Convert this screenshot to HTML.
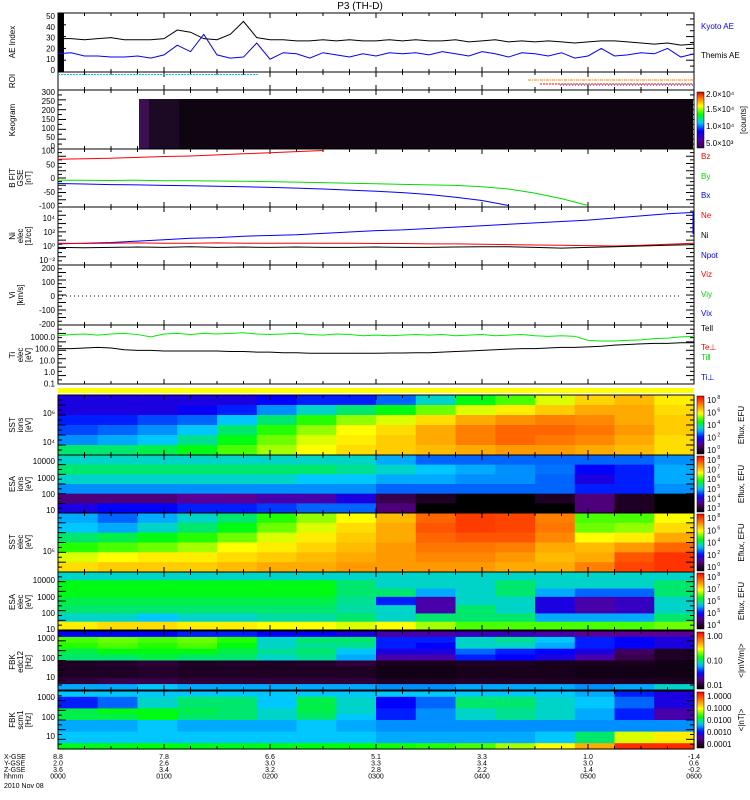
<!DOCTYPE html>
<html><head><meta charset="utf-8">
<style>
html,body{margin:0;padding:0;background:#fff;}
svg{display:block;font-family:"Liberation Sans",sans-serif;}
text{font-size:8px;}
</style></head>
<body>
<svg id="chart" width="750" height="800" viewBox="0 0 750 800" xmlns="http://www.w3.org/2000/svg">
<rect x="0" y="0" width="750" height="800" fill="#fff"/>
<text x="360" y="9" text-anchor="middle" style="font-size:10px">P3 (TH-D)</text>
</svg>
<script>
// ---------- DATA ----------
const aeKyoto = [29,29,28,29,30,28,28,28,29,37,35,29,28,33,45,30,28,28,27,27,28,27,28,27,27,28,27,28,27,27,28,26,27,28,26,27,26,27,26,25,26,27,27,26,25,24,25,23,24];
const aeThemis = [15,16,13,13,12,12,13,11,14,23,17,33,14,11,12,25,10,16,15,11,16,14,12,15,13,16,15,16,14,17,15,13,17,15,12,16,15,13,16,11,13,20,13,14,16,15,20,12,15];
const bz = [68,70,72,75,78,80,84,88,92,96,100];
const by = [-8,-8,-9,-8,-10,-10,-11,-12,-13,-15,-17,-19,-21,-23,-25,-27,-32,-40,-55,-75,-100];
const bx = [-20,-22,-24,-25,-27,-28,-30,-32,-34,-37,-40,-44,-48,-53,-60,-70,-82,-100];
const logNpot = [0.3,0.4,0.5,0.7,0.9,1.1,1.2,1.4,1.5,1.6,1.8,2.0,2.2,2.3,2.5,2.7,2.9,3.1,3.3,3.5,3.7,4.0,4.3,4.6,4.8];
const logNe = [0.4,0.35,0.4,0.45,0.4,0.4,0.45,0.4,0.4,0.4,0.4,0.4,0.35,0.35,0.3,0.3,0.25,0.2,0.15,0.1,0.05,0.0,0.1,0.25,0.4];
const logNi = [-0.2,-0.25,-0.2,-0.15,-0.2,-0.1,-0.2,-0.15,-0.2,-0.15,-0.2,-0.2,-0.15,-0.2,-0.2,-0.15,-0.1,-0.1,-0.2,-0.3,-0.2,-0.1,0.0,0.1,0.2];
const logTi = [3.1,3.2,3.25,3.15,3.25,3.3,3.2,3.0,3.25,3.3,3.2,3.3,3.25,3.3,3.35,3.25,3.2,3.25,3.3,3.2,3.15,3.25,3.2,3.1,3.15,3.1,3.15,3.2,3.15,3.2,3.1,3.15,3.2,3.1,3.15,3.2,3.1,3.05,3.1,3.05,2.7,2.65,2.65,2.7,2.75,2.85,2.9,3.0,3.05];
const logTe = [2.0,2.0,2.05,2.1,2.05,1.9,1.85,1.85,1.8,1.8,1.8,1.8,1.8,1.75,1.75,1.7,1.7,1.65,1.65,1.6,1.6,1.6,1.6,1.6,1.6,1.62,1.62,1.65,1.65,1.7,1.75,1.8,1.85,1.9,1.95,2.0,2.0,2.05,2.1,2.1,2.15,2.2,2.3,2.35,2.4,2.45,2.45,2.5,2.5];
// spectrogram grids: each inner array is one time column, values top->bottom (0..1 normalised log flux)
const sstIon = [[.25,.25,.3,.33,.38,.5],[.25,.25,.3,.35,.4,.5],[.25,.25,.33,.38,.42,.52],[.25,.27,.35,.42,.48,.55],[.25,.3,.42,.5,.55,.6],[.28,.38,.5,.58,.62,.65],[.3,.45,.58,.64,.68,.7],[.3,.5,.64,.7,.72,.74],[.35,.55,.68,.74,.76,.76],[.45,.62,.74,.8,.8,.78],[.55,.68,.8,.85,.85,.8],[.6,.72,.83,.88,.88,.82],[.68,.76,.85,.88,.86,.82],[.75,.8,.84,.86,.84,.8],[.78,.8,.8,.82,.8,.78],[.72,.74,.76,.76,.74,.74]];
const esaIon = [[.45,.5,.45,.38,.15,.25],[.45,.5,.45,.38,.15,.28],[.45,.5,.45,.38,.15,.28],[.45,.5,.45,.38,.18,.3],[.45,.5,.45,.38,.18,.3],[.45,.5,.45,.38,.2,.32],[.45,.5,.42,.38,.2,.35],[.45,.48,.42,.38,.25,.35],[.4,.45,.4,.35,.1,.15],[.35,.42,.4,.35,.05,.0],[.35,.4,.38,.35,.0,.0],[.35,.38,.38,.35,.0,.0],[.35,.36,.35,.35,.05,.0],[.35,.28,.25,.3,.15,.15],[.35,.3,.3,.3,.05,.05],[.38,.4,.4,.38,.0,.0]];
const sstEl = [[.4,.42,.5,.58,.68,.74],[.35,.4,.52,.6,.7,.76],[.4,.45,.55,.62,.72,.76],[.45,.5,.58,.65,.72,.76],[.5,.55,.62,.7,.74,.78],[.58,.62,.68,.72,.76,.8],[.64,.68,.72,.75,.78,.8],[.7,.74,.76,.78,.8,.82],[.78,.8,.8,.82,.82,.82],[.88,.9,.88,.86,.84,.82],[.93,.93,.9,.86,.84,.82],[.92,.92,.9,.85,.82,.8],[.85,.86,.84,.8,.78,.8],[.6,.62,.7,.78,.8,.85],[.6,.64,.72,.82,.9,.92],[.7,.74,.8,.88,.94,.94]];
const esaEl = [[.45,.55,.55,.52,.5,.45,.72],[.45,.55,.55,.52,.5,.45,.74],[.45,.55,.55,.52,.5,.42,.74],[.45,.55,.55,.52,.5,.45,.72],[.45,.55,.55,.52,.5,.45,.72],[.45,.55,.55,.52,.5,.47,.7],[.45,.55,.55,.52,.5,.47,.7],[.45,.5,.5,.48,.47,.5,.68],[.45,.45,.5,.3,.45,.45,.7],[.45,.45,.4,.2,.2,.5,.65],[.45,.45,.45,.45,.5,.5,.6],[.45,.5,.5,.45,.45,.5,.6],[.45,.45,.4,.25,.25,.4,.6],[.45,.45,.35,.2,.2,.4,.6],[.45,.45,.35,.22,.22,.4,.6],[.45,.5,.5,.45,.45,.5,.62]];
const fbkEdc = [[.28,.6,.58,.52,.5,.05,.05,.05,.08,.4],[.28,.62,.6,.55,.5,.06,.05,.05,.1,.4],[.28,.6,.58,.55,.52,.08,.06,.06,.1,.42],[.3,.62,.6,.55,.5,.05,.05,.05,.08,.4],[.3,.58,.55,.52,.5,.06,.05,.05,.08,.4],[.28,.45,.45,.48,.45,.05,.05,.05,.08,.4],[.28,.5,.48,.5,.48,.06,.05,.05,.08,.4],[.25,.5,.48,.42,.4,.08,.05,.05,.08,.4],[.2,.3,.3,.25,.2,.04,.03,.03,.05,.38],[.2,.3,.28,.25,.2,.04,.03,.03,.05,.38],[.22,.45,.45,.35,.3,.05,.04,.04,.06,.4],[.22,.48,.45,.3,.28,.05,.04,.04,.06,.4],[.2,.42,.4,.28,.25,.04,.04,.04,.05,.4],[.18,.3,.3,.25,.2,.04,.03,.03,.05,.38],[.18,.28,.28,.12,.1,.04,.03,.03,.05,.4],[.18,.25,.25,.05,.05,.03,.03,.03,.05,.45]];
const fbkScm = [[.42,.3,.3,.52,.52,.4,.4,.42,.42,.55],[.42,.35,.35,.55,.52,.4,.4,.42,.42,.55],[.42,.45,.45,.55,.55,.42,.42,.42,.42,.56],[.42,.5,.5,.52,.5,.4,.4,.42,.42,.55],[.42,.5,.5,.5,.5,.4,.4,.42,.42,.55],[.42,.42,.42,.45,.45,.4,.4,.42,.42,.55],[.42,.52,.52,.52,.5,.42,.42,.42,.42,.56],[.42,.45,.45,.45,.42,.4,.4,.42,.42,.56],[.42,.28,.28,.3,.3,.38,.38,.4,.4,.57],[.42,.35,.35,.38,.38,.38,.38,.4,.4,.58],[.42,.5,.5,.45,.45,.38,.38,.4,.4,.6],[.42,.5,.5,.48,.48,.38,.38,.4,.4,.65],[.42,.45,.45,.45,.45,.38,.38,.42,.42,.7],[.4,.42,.42,.4,.4,.38,.38,.5,.5,.8],[.3,.35,.35,.3,.3,.38,.38,.68,.68,.95],[.25,.25,.25,.2,.2,.38,.38,.72,.72,.95]];
const timeLabels = ["0000","0100","0200","0300","0400","0500","0600"];
const xGse = ["8.8","7.8","6.6","5.1","3.3","1.0","-1.4"];
const yGse = ["2.0","2.6","3.0","3.3","3.4","3.0","0.6"];
const zGse = ["3.6","3.4","3.2","2.8","2.2","1.4","-0.2"];

// ---------- helpers ----------
const svg = document.getElementById('chart');
const NS = 'http://www.w3.org/2000/svg';
const X0 = 58, X1 = 694;
function xT(h){ return X0 + h/6*(X1-X0); }
function mk(tag, attrs){ const e=document.createElementNS(NS,tag); for(const k in attrs) e.setAttribute(k,attrs[k]); svg.appendChild(e); return e; }
function txt(x,y,s,opt){ const e=mk('text',Object.assign({x:x,y:y},opt||{})); e.textContent=s; return e; }
const stops=[[0,[0,0,0]],[0.08,[48,0,58]],[0.18,[90,0,150]],[0.28,[0,0,255]],[0.42,[0,200,255]],[0.56,[0,255,0]],[0.7,[255,255,0]],[0.85,[255,128,0]],[1,[255,0,0]]];
function jet(v){ v=Math.max(0,Math.min(1,v)); for(let i=1;i<stops.length;i++){ if(v<=stops[i][0]){ const a=stops[i-1],b=stops[i]; const f=(v-a[0])/(b[0]-a[0]); const c=a[1].map((q,j)=>Math.round(q+(b[1][j]-q)*f)); return 'rgb('+c.join(',')+')'; } } return 'rgb(255,0,0)'; }
const defs = mk('defs',{});
const lg = document.createElementNS(NS,'linearGradient'); lg.setAttribute('id','jetg'); lg.setAttribute('x1','0');lg.setAttribute('y1','1');lg.setAttribute('x2','0');lg.setAttribute('y2','0');
for(let i=0;i<=20;i++){ const s=document.createElementNS(NS,'stop'); s.setAttribute('offset',(i/20)); s.setAttribute('stop-color',jet(i/20)); lg.appendChild(s);} defs.appendChild(lg);
const kg = document.createElementNS(NS,'linearGradient'); kg.setAttribute('id','keog'); kg.setAttribute('x1','0');kg.setAttribute('y1','1');kg.setAttribute('x2','0');kg.setAttribute('y2','0');
[[0,'#3a0050'],[0.15,'#5000a0'],[0.3,'#0000ff'],[0.45,'#00c8ff'],[0.6,'#00ff00'],[0.75,'#ffff00'],[0.88,'#ff8000'],[1,'#e00000']].forEach(p=>{const s=document.createElementNS(NS,'stop'); s.setAttribute('offset',p[0]); s.setAttribute('stop-color',p[1]); kg.appendChild(s);}); defs.appendChild(kg);

function frame(y0,y1,name){ const r=mk('rect',{x:X0,y:y0,width:X1-X0,height:y1-y0,fill:'none',stroke:'#000','stroke-width':1});  
  for(let h=0;h<=6;h+=0.25){ const x=xT(h); const L=(h%1===0)?5:3; mk('line',{x1:x,y1:y0,x2:x,y2:y0+L,stroke:'#000'}); mk('line',{x1:x,y1:y1,x2:x,y2:y1-L,stroke:'#000'}); } }
function yticks(y0,y1,n){ for(let i=0;i<=n;i++){ const y=y0+(y1-y0)*i/n; mk('line',{x1:X0,y1:y,x2:X0+(i%2?4:8),y2:y,stroke:'#000'}); mk('line',{x1:X1,y1:y,x2:X1-(i%2?4:8),y2:y,stroke:'#000'}); } }
function ylab(y,s){ const t=txt(55,y+3,s,{'text-anchor':'end'});   }
function sidelab(yc,lines,name){ const g=mk('g',{});  
  lines.forEach((s,i)=>{ const x=15+i*8; const t=document.createElementNS(NS,'text'); t.setAttribute('transform','translate('+x+','+yc+') rotate(-90)'); t.setAttribute('text-anchor','middle'); t.textContent=s; g.appendChild(t); }); }
function rightlab(y,s,c,name){ const t=txt(701,y,s,{fill:c});   }
function line(vals,tmax,yf,color,name,dash){ const pts=vals.map((v,i)=>xT(i*tmax/(vals.length-1))+','+yf(v)).join(' ');
  const p=mk('polyline',{points:pts,fill:'none',stroke:color,'stroke-width':1}); if(dash) p.setAttribute('stroke-dasharray',dash);
    return p; }
function spectro(grid,y0,y1,name){ const nc=grid.length, nr=grid[0].length; const cw=(X1-X0)/nc, rh=(y1-y0)/nr;
  grid.forEach((col,ci)=>col.forEach((v,ri)=>{ const r=mk('rect',{x:X0+ci*cw,y:y0+ri*rh,width:cw+0.6,height:rh+0.6,fill:jet(v)});
      })); }
function cbar(y0,y1,labels,unit,name){ const r=mk('rect',{x:697,y:y0,width:7,height:y1-y0,fill:'url(#jetg)',stroke:'#000','stroke-width':0.5});  
  labels.forEach((s,i)=>{ const y=y0+4+(y1-y0-8)*i/(labels.length-1); txt(707,y+3,s[0],{'font-size':'8px'}); if(s[1]){ txt(707+s[0].length*5.2,y-1,s[1],{style:'font-size:5px'}); } });
  const t=document.createElementNS(NS,'text'); t.setAttribute('transform','translate(744,'+((y0+y1)/2)+') rotate(-90)'); t.setAttribute('text-anchor','middle'); t.textContent=unit; svg.appendChild(t); }

// ---------- AE panel ----------
const aeY=v=>70-v*1.08;
frame(13,72,'ae-panel'); yticks(13,72,10);
[0,10,20,30,40,50].forEach(v=>ylab(aeY(v),String(v)));
mk('rect',{x:X0,y:13,width:6,height:59,fill:'#000'});
line(aeKyoto,6,aeY,'#000','kyoto-ae-line');
line(aeThemis,6,aeY,'#0000ff','themis-ae-line');
sidelab(42,['AE Index'],'ae-axis-title');
rightlab(29,'Kyoto AE','#0000ff','legend-kyoto-ae'); rightlab(58,'Themis AE','#000','legend-themis-ae');
// ---------- ROI panel ----------
frame(72,90,'roi-panel');
mk('line',{x1:X0,y1:74.5,x2:258,y2:74.5,stroke:'#00c8ff','stroke-dasharray':'2,1'});
mk('line',{x1:528,y1:80,x2:693,y2:80,stroke:'#ff8000','stroke-dasharray':'3,1,1,1'});
mk('line',{x1:540,y1:84,x2:693,y2:84,stroke:'#ff0000','stroke-dasharray':'2,1'});
mk('line',{x1:560,y1:85,x2:693,y2:85,stroke:'#0000ff','stroke-dasharray':'1,2'});
sidelab(81,['ROI'],'roi-axis-title');
// ---------- Keogram ----------
frame(90,149,'keogram-panel'); yticks(90,149,12);
[300,250,200,150,100,50,0].forEach((v,i)=>ylab(92+i*9,String(v)));
const kr=mk('rect',{x:139,y:99,width:554,height:50,fill:'#0e0510'});  
mk('rect',{x:139,y:99,width:10,height:50,fill:'#3a1050'});
mk('rect',{x:149,y:99,width:30,height:50,fill:'#1c0a24'});
mk('rect',{x:697,y:92,width:7,height:56,fill:'url(#keog)',stroke:'#000','stroke-width':0.5});
txt(706,97,'2.0×10⁴'); txt(706,112,'1.5×10⁴'); txt(706,129,'1.0×10⁴'); txt(706,146,'5.0×10³');
{const t=document.createElementNS(NS,'text'); t.setAttribute('transform','translate(746,120) rotate(-90)'); t.setAttribute('text-anchor','middle'); t.textContent='[counts]'; svg.appendChild(t);}
sidelab(120,['Keogram'],'keogram-axis-title');
// ---------- B field ----------
const bY=v=>178-v*0.275;
frame(149,207,'bfield-panel'); yticks(149,207,16);
[100,50,0,-50,-100].forEach(v=>ylab(bY(v),String(v)));
line(bz,2.5,bY,'#ff0000','bz-line'); line(by,5,bY,'#00dd00','by-line'); line(bx,4.25,bY,'#0000ff','bx-line');
sidelab(178,['B FIT','GSE','[nT]'],'bfield-axis-title');
rightlab(159,'Bz','#ff0000','legend-bz'); rightlab(179,'By','#00dd00','legend-by'); rightlab(198,'Bx','#0000ff','legend-bx');
// ---------- Density ----------
const nY=v=>246-v*7;
frame(207,265,'density-panel'); yticks(207,265,14);
ylab(nY(4),'10⁴'); ylab(nY(2),'10²'); ylab(nY(0),'10⁰'); ylab(nY(-2),'10⁻²');
line(logNpot,6,nY,'#0000ff','npot-line'); mk('line',{x1:X1-1,y1:nY(4.8),x2:X1-1,y2:nY(1.7),stroke:'#0000ff'});
line(logNe,6,nY,'#ff0000','ne-line'); line(logNi,6,nY,'#000','ni-line');
sidelab(236,['Ni','elec','[1/cc]'],'density-axis-title');
rightlab(218,'Ne','#ff0000','legend-ne'); rightlab(238,'Ni','#000','legend-ni'); rightlab(258,'Npot','#0000ff','legend-npot');
// ---------- Velocity ----------
const vY=v=>296-v*0.14;
frame(265,325,'velocity-panel'); yticks(265,325,16);
mk('rect',{x:X0,y:265,width:6,height:60,fill:'none'});
[200,100,0,-100,-200].forEach(v=>ylab(vY(v),String(v)));
mk('line',{x1:X0,y1:vY(0),x2:680,y2:vY(0),stroke:'#000','stroke-dasharray':'1,3'});
sidelab(295,['Vi','[km/s]'],'velocity-axis-title');
rightlab(277,'Viz','#ff0000','legend-viz'); rightlab(297,'Viy','#00dd00','legend-viy'); rightlab(316,'Vix','#0000ff','legend-vix');
// ---------- Temperature ----------
const tY=v=>372-v*11.7;
frame(325,384,'temperature-panel'); yticks(325,384,14);
ylab(tY(3),'1000.0'); ylab(tY(2),'100.0'); ylab(tY(1),'10.0'); ylab(tY(0),'1.0'); ylab(tY(-1),'0.1');
line(logTi,6,tY,'#00ee00','ti-par-line'); line(logTe,6,tY,'#000','te-line');
sidelab(355,['Ti','elec','[eV]'],'temperature-axis-title');
rightlab(331,'Tell','#000','legend-tell'); rightlab(350,'Te⊥','#ff0000','legend-te-perp'); rightlab(360,'Ti‖','#00dd00','legend-ti-par'); rightlab(380,'Ti⊥','#0000ff','legend-ti-perp');
// yellow bar
mk('rect',{x:X0,y:388,width:X1-X0,height:5,fill:'#ffff00'});
// ---------- Spectrograms ----------
spectro(sstIon,395,455,'sst-ion'); frame(395,455,'sst-ion-panel'); yticks(395,455,12);
ylab(413,'10⁶'); ylab(442,'10⁴'); sidelab(425,['SST','ions','[eV]'],'sst-ion-axis-title');
cbar(396,454,[['10','8'],['10','6'],['10','4'],['10','2'],['10','0']],'Eflux, EFU','sst-ion-colorbar');
spectro(esaIon,455,513,'esa-ion'); frame(455,513,'esa-ion-panel'); yticks(455,513,12);
ylab(461,'10000'); ylab(478,'1000'); ylab(494,'100'); ylab(510,'10'); sidelab(484,['ESA','ions','[eV]'],'esa-ion-axis-title');
cbar(456,512,[['10','8'],['10','7'],['10','6'],['10','5'],['10','4'],['10','3']],'Eflux, EFU','esa-ion-colorbar');
spectro(sstEl,513,572,'sst-elec'); frame(513,572,'sst-elec-panel'); yticks(513,572,12);
ylab(551,'10⁵'); sidelab(542,['SST','elec','[eV]'],'sst-elec-axis-title');
cbar(514,571,[['10','8'],['10','6'],['10','4'],['10','2'],['10','0']],'Eflux, EFU','sst-elec-colorbar');
spectro(esaEl,572,630,'esa-elec'); frame(572,630,'esa-elec-panel'); yticks(572,630,12);
ylab(580,'10000'); ylab(597,'1000'); ylab(613,'100'); ylab(629,'10'); sidelab(602,['ESA','elec','[eV]'],'esa-elec-axis-title');
cbar(573,629,[['10','8'],['10','7'],['10','6'],['10','5'],['10','4']],'Eflux, EFU','esa-elec-colorbar');
spectro(fbkEdc,631,690,'fbk-edc12'); frame(631,690,'fbk-edc12-panel'); yticks(631,690,12);
ylab(638,'1000'); ylab(658,'100'); ylab(677,'10'); sidelab(662,['FBK','edc12','[Hz]'],'fbk-edc12-axis-title');
cbar(632,689,[['1.00'],['0.10'],['0.01']],'<|mV/m|>','fbk-edc12-colorbar');
spectro(fbkScm,691,749,'fbk-scm1'); frame(691,749,'fbk-scm1-panel'); yticks(691,749,12);
ylab(697,'1000'); ylab(717,'100'); ylab(736,'10'); sidelab(720,['FBK','scm1','[Hz]'],'fbk-scm1-axis-title');
cbar(692,748,[['1.0000'],['0.1000'],['0.0100'],['0.0010'],['0.0001']],'<|nT|>','fbk-scm1-colorbar');
// ---------- bottom axis ----------
['X-GSE','Y-GSE','Z-GSE','hhmm'].forEach((s,i)=>{ const t=txt(4,759+i*6.5,s,{style:'font-size:7px'});   });
{const t=txt(4,788,'2010 Nov 08',{style:'font-size:7px'});  }
timeLabels.forEach((s,i)=>{ const x=xT(i);
  [xGse[i],yGse[i],zGse[i],s].forEach((v,j)=>{ const t=txt(x,759+j*6.5,v,{'text-anchor':'middle',style:'font-size:7px'});   }); });
</script>
</body></html>
